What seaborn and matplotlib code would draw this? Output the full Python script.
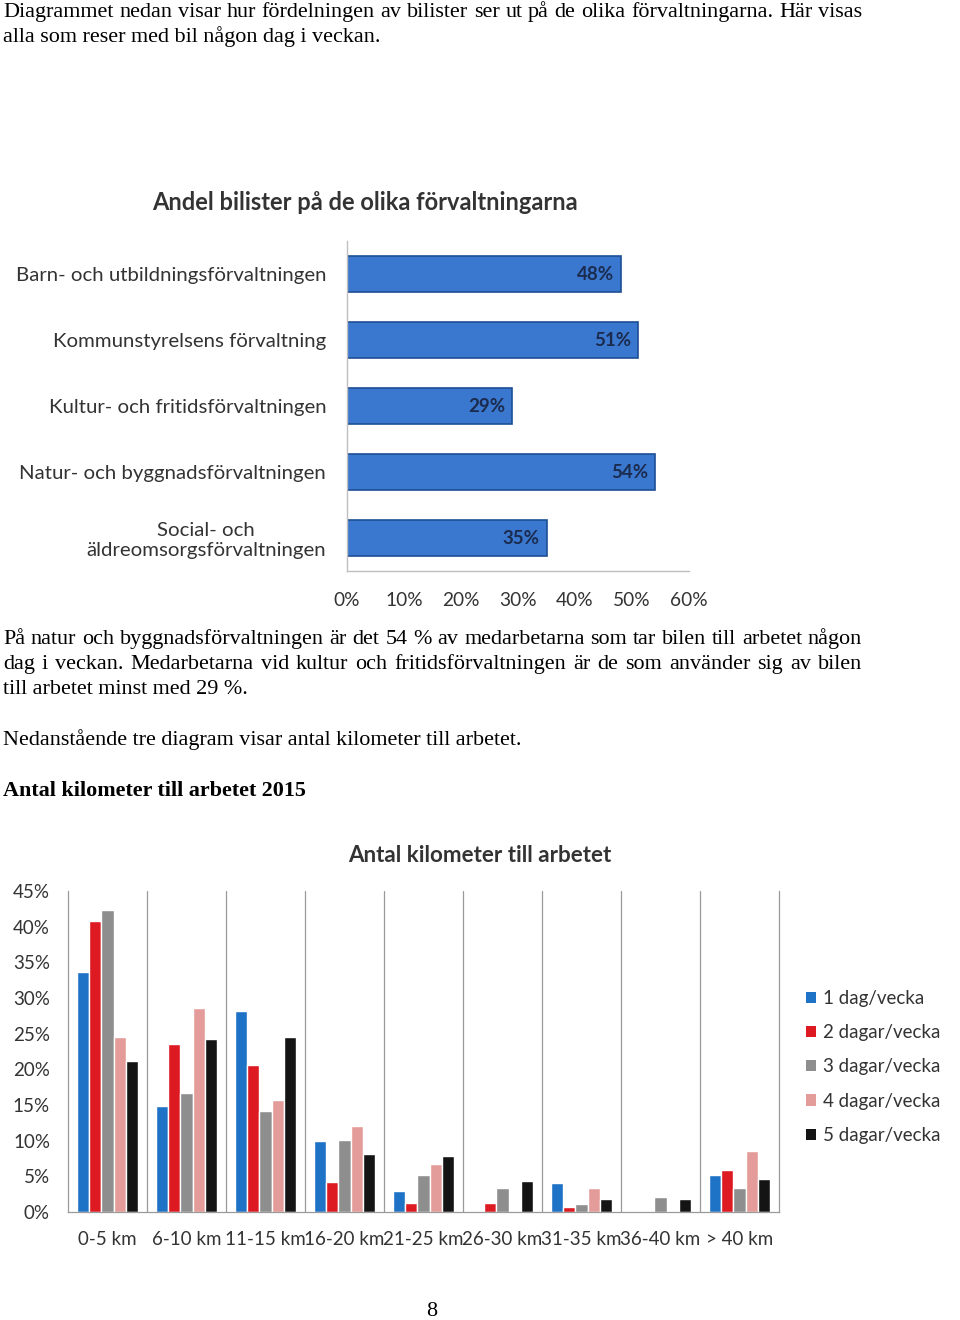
import numpy as np
import pandas as pd
import matplotlib
matplotlib.use("Agg")
import matplotlib.pyplot as plt
import seaborn as sns
from matplotlib.patches import Patch

sns.set_theme(style="white")
plt.rcParams['font.family'] = ['Lato', 'DejaVu Sans']

# chart 1 data
forvaltningar = ["Barn- och utbildningsförvaltningen",
                 "Kommunstyrelsens förvaltning",
                 "Kultur- och fritidsförvaltningen",
                 "Natur- och byggnadsförvaltningen",
                 "Social- och\näldreomsorgsförvaltningen"]
andel_bilister = [48, 51, 29, 54, 35]

# chart 2 data
km_klasser = ["0-5 km", "6-10 km", "11-15 km", "16-20 km", "21-25 km",
              "26-30 km", "31-35 km", "36-40 km", "> 40 km"]
dagar = ["1 dag/vecka", "2 dagar/vecka", "3 dagar/vecka", "4 dagar/vecka", "5 dagar/vecka"]
dag1 = [33.7, 14.8, 28.2, 9.9, 3.0, 0.0, 4.0, 0.0, 5.2]
dag2 = [40.8, 23.6, 20.6, 4.2, 1.3, 1.3, 0.7, 0.0, 5.9]
dag3 = [42.3, 16.7, 14.2, 10.1, 5.2, 3.4, 1.1, 2.1, 3.3]
dag4 = [24.5, 28.6, 15.7, 12.1, 6.7, 0.0, 3.3, 0.0, 8.5]
dag5 = [21.1, 24.2, 24.5, 8.2, 7.8, 4.3, 1.8, 1.8, 4.6]
farger = ["#1F73C6", "#DD1A22", "#8E8E8E", "#E49C9A", "#141414"]

W, H = 960, 1320
fig = plt.figure(figsize=(9.6, 13.2), dpi=100)
fig.patch.set_facecolor("white")
renderer = fig.canvas.get_renderer()

def ftext(x, y, s, va="center", **kw):
    # x,y in pixels from top-left
    return fig.text(x / W, 1 - y / H, s, va=va, **kw)

def justified(x0, x1, y, s, **kw):
    # spread the words so the line fills x0..x1, all on one baseline
    words = s.split()
    widths = []
    for w in words:
        t = ftext(0, y, w, va="baseline", **kw)
        widths.append(t.get_window_extent(renderer).width)
        t.remove()
    gap = (x1 - x0 - sum(widths)) / (len(words) - 1)
    x = x0
    for w, wd in zip(words, widths):
        ftext(x, y + 6, w, va="baseline", **kw)
        x += wd + gap

serif = dict(family="Liberation Serif", fontsize=15.9, color="black")
justified(3, 862, 11, "Diagrammet nedan visar hur fördelningen av bilister ser ut på de olika förvaltningarna. Här visas", **serif)
ftext(3, 42, "alla som reser med bil någon dag i veckan.", va="baseline", **serif)
justified(3, 862, 638, "På natur och byggnadsförvaltningen är det 54 % av medarbetarna som tar bilen till arbetet någon", **serif)
justified(3, 862, 663, "dag i veckan. Medarbetarna vid kultur och fritidsförvaltningen är de som använder sig av bilen", **serif)
ftext(3, 694, "till arbetet minst med 29 %.", va="baseline", **serif)
ftext(3, 745, "Nedanstående tre diagram visar antal kilometer till arbetet.", va="baseline", **serif)
ftext(3, 796, "Antal kilometer till arbetet 2015", va="baseline", family="Liberation Serif",
      fontsize=15.9, fontweight="bold", color="black")
ftext(432, 1316, "8", va="baseline", ha="center", **serif)

# ---- chart 1: horizontal bars
ax1 = fig.add_axes([347 / W, 1 - 571 / H, (689 - 347) / W, (571 - 241) / H])
sns.barplot(x=andel_bilister, y=forvaltningar, orient="h", color="#3A78CF",
            saturation=1, width=0.54, edgecolor="#1E4E93", linewidth=1.2, ax=ax1)
ax1.set_xlim(0, 60)
ax1.set_ylim(4.5, -0.5)
ax1.set_xticks(range(0, 61, 10))
ax1.set_xticklabels([f"{v}%" for v in range(0, 61, 10)], fontsize=13.8, color="#333333")
ax1.tick_params(axis="x", length=0, pad=15)
ax1.tick_params(axis="y", length=0, pad=15, labelsize=14.7, labelcolor="#333333")
for lab in ax1.get_yticklabels():
    lab.set_multialignment("center")
for sp in ["top", "right"]:
    ax1.spines[sp].set_visible(False)
for sp in ["left", "bottom"]:
    ax1.spines[sp].set_color("#BFBFBF")
    ax1.spines[sp].set_linewidth(1)
for i, v in enumerate(andel_bilister):
    ax1.text(v - 1.2, i, f"{v}%", ha="right", va="center", fontsize=13.5,
             fontweight="bold", color="#1B2B4E")
ax1.set_xlabel("")
ax1.set_ylabel("")
ftext(365, 203, "Andel bilister på de olika förvaltningarna", ha="center",
      fontsize=17, fontweight="bold", color="#333333")

# ---- chart 2: grouped bars
df = pd.DataFrame({"km": km_klasser * 5,
                   "dagar": np.repeat(dagar, len(km_klasser)),
                   "andel": dag1 + dag2 + dag3 + dag4 + dag5})
ax2 = fig.add_axes([68 / W, 1 - 1212 / H, (779 - 68) / W, (1212 - 891) / H])
sns.barplot(data=df, x="km", y="andel", hue="dagar", palette=farger,
            saturation=1, width=0.78, legend=False, ax=ax2)
ax2.set_xlim(-0.5, 8.5)
ax2.set_ylim(0, 45)
ax2.set_yticks(range(0, 46, 5))
ax2.set_yticklabels([f"{v}%" for v in range(0, 46, 5)], fontsize=13.5, color="#333333")
ax2.set_xticks(range(len(km_klasser)))
ax2.set_xticklabels(km_klasser, fontsize=13.5, color="#333333")
ax2.set_xticks(np.arange(0.5, 8.5, 1), minor=True)
ax2.grid(which="minor", axis="x", color="#9A9A9A", linewidth=0.9)
ax2.tick_params(axis="both", which="both", length=0)
ax2.tick_params(axis="y", pad=13)
ax2.tick_params(axis="x", pad=14)
for sp in ["top"]:
    ax2.spines[sp].set_visible(False)
for sp in ["left", "bottom", "right"]:
    ax2.spines[sp].set_color("#9A9A9A")
    ax2.spines[sp].set_linewidth(0.9)
ax2.set_xlabel("")
ax2.set_ylabel("")
ftext(480, 855, "Antal kilometer till arbetet", ha="center",
      fontsize=16.1, fontweight="bold", color="#333333")

handles = [Patch(facecolor=c, edgecolor="none") for c in farger]
fig.legend(handles, dagar, loc="upper left", bbox_to_anchor=(789 / W, 1 - 973 / H),
           frameon=False, fontsize=13.5, labelcolor="#333333", handlelength=0.55,
           handleheight=0.55, handletextpad=0.35, labelspacing=0.92)

fig.savefig("out.png", dpi=100, facecolor="white")
